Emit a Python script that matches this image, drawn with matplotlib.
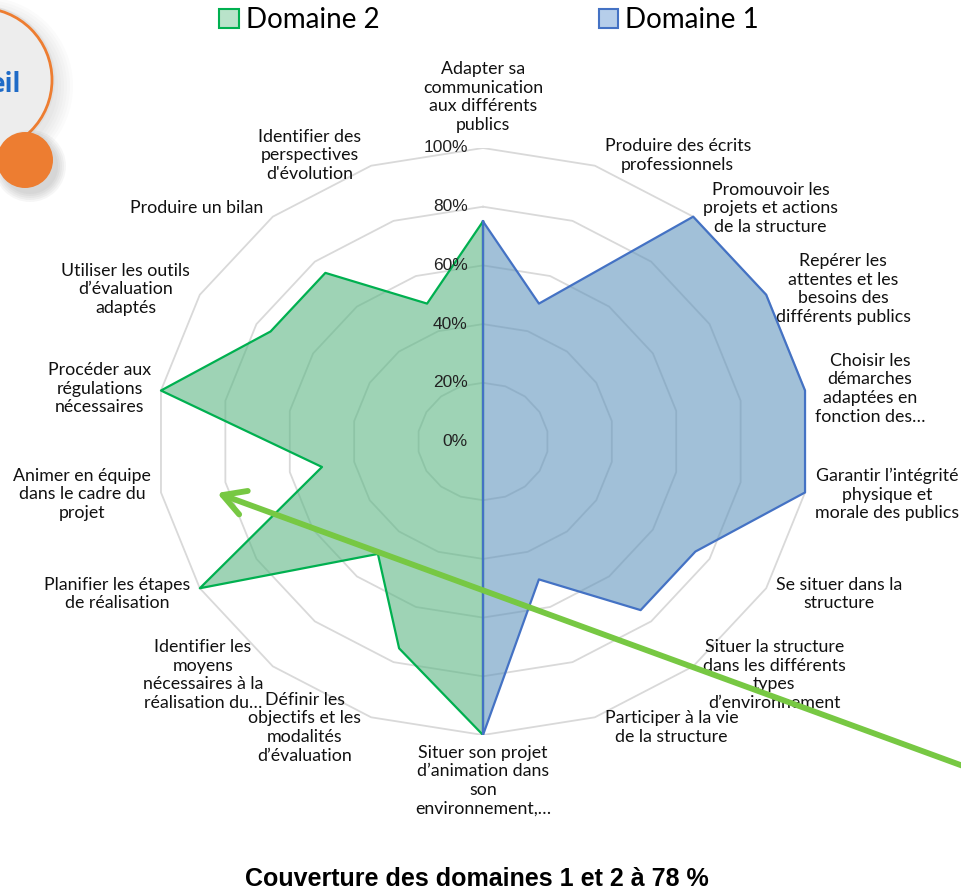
import numpy as np
import matplotlib.pyplot as plt
from matplotlib.patches import Circle, Patch

categories = [
    "Adapter sa\ncommunication\naux différents\npublics",
    "Produire des écrits\nprofessionnels",
    "Promouvoir les\nprojets et actions\nde la structure",
    "Repérer les\nattentes et les\nbesoins des\ndifférents publics",
    "Choisir les\ndémarches\nadaptées en\nfonction des…",
    "Garantir l’intégrité\nphysique et\nmorale des publics",
    "Se situer dans la\nstructure",
    "Situer la structure\ndans les différents\ntypes\nd’environnement",
    "Participer à la vie\nde la structure",
    "Situer son projet\nd’animation dans\nson\nenvironnement,…",
    "Définir les\nobjectifs et les\nmodalités\nd’évaluation",
    "Identifier les\nmoyens\nnécessaires à la\nréalisation du…",
    "Planifier les étapes\nde réalisation",
    "Animer en équipe\ndans le cadre du\nprojet",
    "Procéder aux\nrégulations\nnécessaires",
    "Utiliser les outils\nd’évaluation\nadaptés",
    "Produire un bilan",
    "Identifier des\nperspectives\nd'évolution",
]
domaine1 = [0.75, 0.50, 1.00, 1.00, 1.00, 1.00, 0.75, 0.75, 0.50, 1.00,
            0, 0, 0, 0, 0, 0, 0, 0]
domaine2 = [0.75, 0, 0, 0, 0, 0, 0, 0, 0, 1.00,
            0.75, 0.50, 1.00, 0.50, 1.00, 0.75, 0.75, 0.50]
levels = [0.2, 0.4, 0.6, 0.8, 1.0]
tick_labels = ["0%", "20%", "40%", "60%", "80%", "100%"]
series_names = ["Domaine 2", "Domaine 1"]
title = "Couverture des domaines 1 et 2 à 78 %"

W, H = 961, 893
fig = plt.figure(figsize=(W / 100, H / 100), dpi=100)

# radar drawn in a cartesian axes (the original is stretched horizontally)
cx, cy, rx, ry = 483, 441.5, 327, 293.5
ax = fig.add_axes([(cx - rx) / W, (H - cy - ry) / H, 2 * rx / W, 2 * ry / H])
ax.set_xlim(-1, 1)
ax.set_ylim(-1, 1)
ax.axis("off")

n = len(categories)
theta = np.deg2rad(np.arange(n) * 360 / n)
s, c = np.sin(theta), np.cos(theta)


def closed(a):
    a = np.asarray(a, dtype=float)
    return np.append(a, a[0])


for lv in levels:
    ax.plot(closed(lv * s), closed(lv * c), color="#D9D9D9", lw=1.3, zorder=1)

v2 = np.array(domaine2)
v1 = np.array(domaine1)
ax.fill(v2 * s, v2 * c, color="#5DB785", alpha=0.6, lw=0, zorder=2)
ax.fill(v1 * s, v1 * c, color="#6296BE", alpha=0.6, lw=0, zorder=3)
ax.plot(closed(v2 * s), closed(v2 * c), color="#00B050", lw=1.6, zorder=4)
ax.plot(closed(v1 * s), closed(v1 * c), color="#4472C4", lw=1.6, zorder=5)

for k, lab in enumerate(tick_labels):
    ax.annotate(lab, (0, k * 0.2), xytext=(-11, 0), textcoords="offset points",
                ha="right", va="center", fontsize=12.5, family="Liberation Sans",
                color="#222222", zorder=6)

for i, lab in enumerate(categories):
    if abs(s[i]) < 0.1:
        ha = "center"
        va = "bottom" if c[i] > 0 else "top"
        off = (0, 11 if c[i] > 0 else -7)
    else:
        ha = "left" if s[i] > 0 else "right"
        va = "center"
        off = (7 if s[i] > 0 else -7, 8 * c[i])
    ax.annotate(lab, (s[i], c[i]), xytext=off, textcoords="offset points",
                ha=ha, va=va, multialignment="center", fontsize=12.8,
                family="Lato", color="#111111", linespacing=1.2,
                annotation_clip=False)

handles = [Patch(facecolor="#B9E3CA", edgecolor="#00B050", lw=1.5),
           Patch(facecolor="#B6CEEA", edgecolor="#4472C4", lw=1.5)]
fig.legend(handles, series_names, loc="center", bbox_to_anchor=(0.509, 1 - 20 / H),
           ncol=2, frameon=False, handlelength=0.7, handleheight=0.7,
           handletextpad=0.25, columnspacing=7.9, prop={"family": "Lato", "size": 20})

fig.text(477 / W, 1 - 891 / H, title, ha="center", va="bottom", fontsize=18,
         fontweight="bold", family="Liberation Sans")

# overlay in pixel coordinates for the decorations around the chart
ov = fig.add_axes([0, 0, 1, 1], zorder=10)
ov.set_xlim(0, W)
ov.set_ylim(H, 0)
ov.axis("off")
ov.patch.set_alpha(0)

for k in range(6):
    ov.add_patch(Circle((-16, 86), 74 + 3 * k, fc="#888888", ec="none", alpha=0.03))
ov.add_patch(Circle((-20, 80), 73, fc="#F2F2F2", ec="#E0E0E0", lw=3))
ov.add_patch(Circle((-20, 80), 72, fc="#EDEDED", ec="#ED7D31", lw=2))
ov.text(21, 84, "eil", ha="right", va="center", fontsize=19, fontweight="bold",
        color="#1F6BC7", family="Open Sans")
for k in range(5):
    ov.add_patch(Circle((30, 166), 28 + 2 * k, fc="#555555", ec="none", alpha=0.05))
ov.add_patch(Circle((25, 160), 28, fc="#ED7D31", ec="none"))

ov.annotate("", xy=(217, 493), xytext=(985, 774),
            arrowprops=dict(arrowstyle="->,head_length=0.8,head_width=0.45",
                            color="#77C843", lw=4.2, mutation_scale=20,
                            shrinkA=0, shrinkB=0))

fig.savefig("out.png", dpi=100)
